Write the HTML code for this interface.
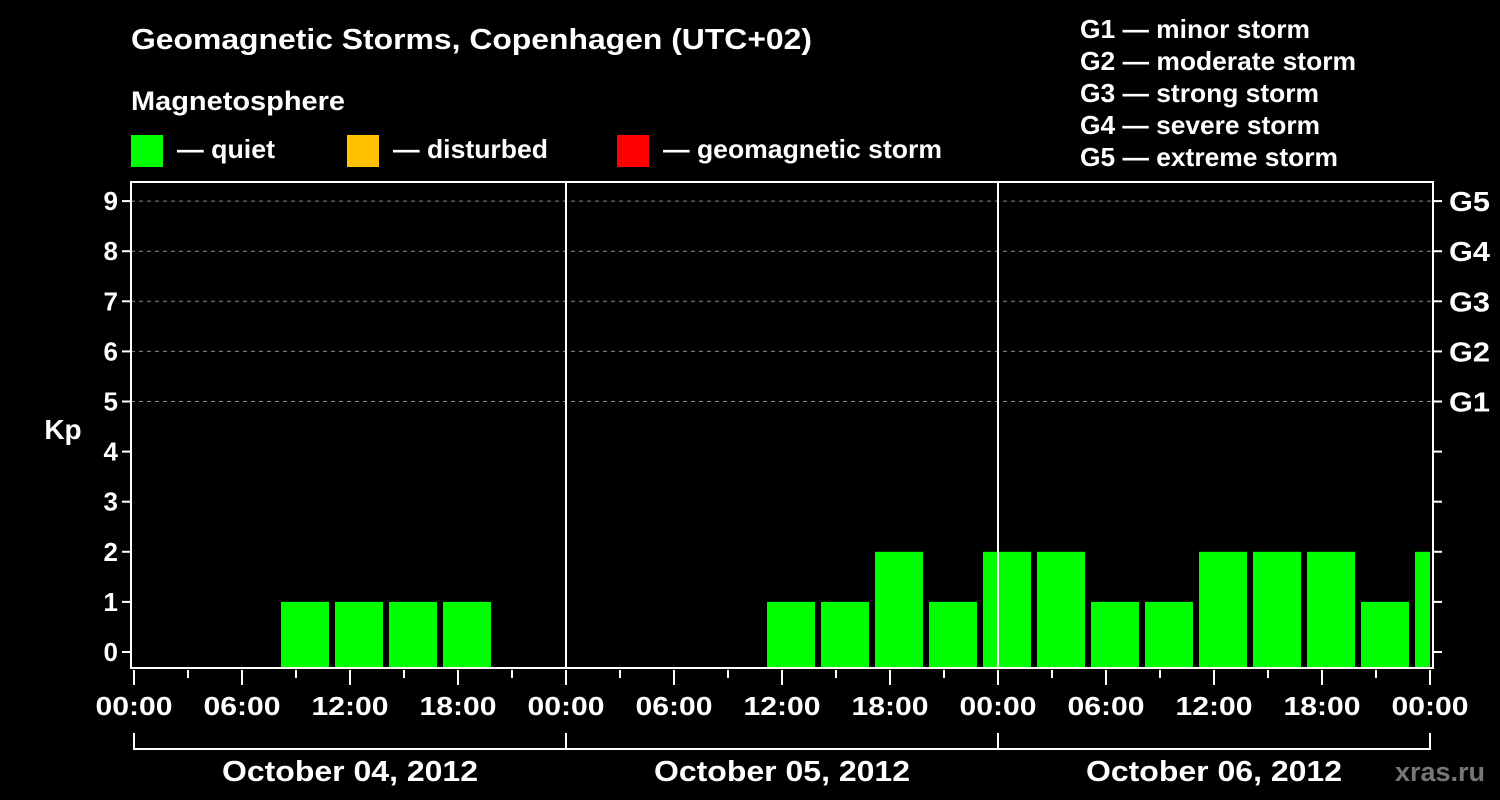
<!DOCTYPE html>
<html><head><meta charset="utf-8"><style>
body{margin:0;background:#000;}
svg{display:block;font-family:"Liberation Sans",Arial,sans-serif;font-weight:bold;}
</style></head><body>
<svg id="c" width="1500" height="800" viewBox="0 0 1500 800">
<rect width="1500" height="800" fill="#000"/>
<text x="131" y="49" fill="#fff" font-size="29" textLength="681" lengthAdjust="spacingAndGlyphs">Geomagnetic Storms, Copenhagen (UTC+02)</text>
<text x="131" y="110" fill="#fff" font-size="27" textLength="214" lengthAdjust="spacingAndGlyphs">Magnetosphere</text>
<g><rect x="131" y="135" width="32" height="32" fill="#00ff00"/><text x="177" y="158" fill="#fff" font-size="26" textLength="98" lengthAdjust="spacingAndGlyphs">— quiet</text></g>
<g><rect x="347" y="135" width="32" height="32" fill="#ffc000"/><text x="393" y="158" fill="#fff" font-size="26" textLength="155" lengthAdjust="spacingAndGlyphs">— disturbed</text></g>
<g><rect x="617" y="135" width="32" height="32" fill="#ff0000"/><text x="663" y="158" fill="#fff" font-size="26" textLength="279" lengthAdjust="spacingAndGlyphs">— geomagnetic storm</text></g>
<g fill="#fff" font-size="26">
<text x="1080" y="38" textLength="230" lengthAdjust="spacingAndGlyphs">G1 — minor storm</text>
<text x="1080" y="70" textLength="276" lengthAdjust="spacingAndGlyphs">G2 — moderate storm</text>
<text x="1080" y="102" textLength="239" lengthAdjust="spacingAndGlyphs">G3 — strong storm</text>
<text x="1080" y="134" textLength="240" lengthAdjust="spacingAndGlyphs">G4 — severe storm</text>
<text x="1080" y="166" textLength="258" lengthAdjust="spacingAndGlyphs">G5 — extreme storm</text>
</g>
<text x="63" y="439" fill="#fff" font-size="28" text-anchor="middle">Kp</text>
<text x="1485" y="781" fill="#777" font-size="27" text-anchor="end">xras.ru</text>
<g id="grid"></g><g id="bars"></g><g id="axes"></g>
</svg>
<script>
const values=[0,0,1,1,1,1,0,0, 0,0,0,1,1,2,1,2, 2,1,1,2,2,2,1,2];
const binStartHours=[2,5,8,11,14,17,20,23, 26,29,32,35,38,41,44,47, 50,53,56,59,62,65,68,71];
const yTicks=[0,1,2,3,4,5,6,7,8,9];
const gLabels=['G1','G2','G3','G4','G5'];
const xTickLabels=['00:00','06:00','12:00','18:00','00:00','06:00','12:00','18:00','00:00','06:00','12:00','18:00','00:00'];
const dayLabels=['October 04, 2012','October 05, 2012','October 06, 2012'];
const NS='http://www.w3.org/2000/svg';
const X0=134,PXH=18,PL=131,PR=1433,PT=182,PB=668;
const xs=h=>X0+h*PXH;
const ys=v=>652-v*50.1;
function mk(p,t,a){const e=document.createElementNS(NS,t);for(const k in a)e.setAttribute(k,a[k]);p.appendChild(e);return e;}
const grid=document.getElementById('grid'),bars=document.getElementById('bars'),axes=document.getElementById('axes');
yTicks.forEach(v=>{
 if(v>=5){const l=mk(grid,'line',{x1:PL,x2:PR,y1:ys(v),y2:ys(v),stroke:'#888','stroke-dasharray':'4,4','stroke-width':1});
 
 }
 const t=mk(axes,'line',{x1:PL-9,x2:PL,y1:ys(v),y2:ys(v),stroke:'#fff','stroke-width':2});
 
 
 mk(axes,'line',{x1:PR,x2:PR+9,y1:ys(v),y2:ys(v),stroke:'#fff','stroke-width':2});
 const tx=mk(axes,'text',{x:PL-13,y:ys(v)+9,fill:'#fff','font-size':26,'text-anchor':'end'});tx.textContent=v;
 
 
 if(v>=5){const g=mk(axes,'text',{x:PR+16,y:ys(v)+10,fill:'#fff','font-size':28,textLength:41,lengthAdjust:'spacingAndGlyphs'});g.textContent=gLabels[v-5];
 
 }
});
values.forEach((v,i)=>{
 if(v<=0)return;
 const x1=xs(binStartHours[i])+3,x2=Math.min(xs(binStartHours[i]+3)-3,PR-3);
 const r=mk(bars,'rect',{x:x1,y:ys(v),width:x2-x1,height:PB-ys(v),fill:v>=5?'#ff0000':(v>=4?'#ffc000':'#00ff00')});
 
 
});
[24,48].forEach(h=>{mk(axes,'line',{x1:xs(h),x2:xs(h),y1:PT,y2:PB,stroke:'#fff','stroke-width':2});});
const fr=mk(axes,'rect',{x:PL,y:PT,width:PR-PL,height:PB-PT,fill:'none',stroke:'#fff','stroke-width':2});


for(let h=0;h<=72;h+=3){
 const major=h%6===0;
 mk(axes,'line',{x1:xs(h),x2:xs(h),y1:PB+2,y2:PB+(major?17:10),stroke:'#fff','stroke-width':2});
}
xTickLabels.forEach((s,i)=>{const t=mk(axes,'text',{x:xs(i*6),y:715,fill:'#fff','font-size':26,'text-anchor':'middle',textLength:77,lengthAdjust:'spacingAndGlyphs'});t.textContent=s;
 
 });
dayLabels.forEach((s,i)=>{
 const a=xs(i*24),b=xs(i*24+24);
 mk(axes,'path',{d:`M${a} 733V749H${b}V733`,stroke:'#fff','stroke-width':2,fill:'none'});
 const t=mk(axes,'text',{x:(a+b)/2,y:781,fill:'#fff','font-size':29,'text-anchor':'middle',textLength:256,lengthAdjust:'spacingAndGlyphs'});t.textContent=s;
 
 
});
</script>
</body></html>
